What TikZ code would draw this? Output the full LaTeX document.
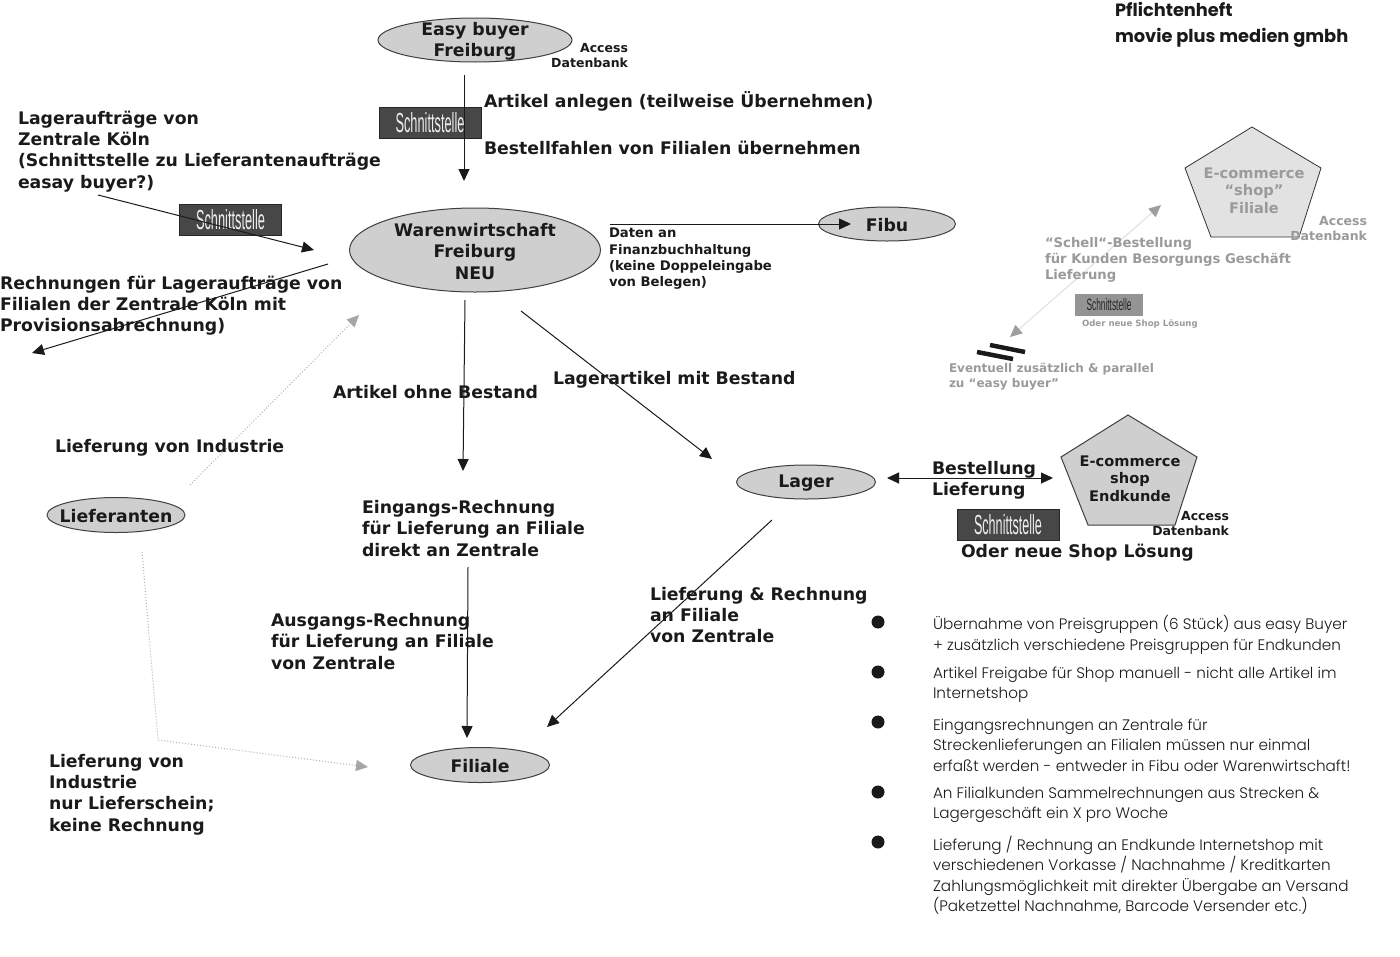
\documentclass[tikz,border=0pt]{standalone}
\usepackage{fontspec}
\usepackage{graphicx}
\setmainfont{DejaVu Sans}
\newfontfamily\titlefont{Poppins}
\newfontfamily\bulletfont{Poppins Light}
\newfontfamily\ifacefont{Liberation Sans}
\usetikzlibrary{arrows.meta,shapes.geometric}
\definecolor{ink}{HTML}{1A1A1A}
\definecolor{ellfill}{HTML}{CFCFCF}
\definecolor{pale}{HTML}{9A9A9A}
\definecolor{palefill}{HTML}{E2E2E2}
\definecolor{ifacefill}{HTML}{474747}
\begin{document}
\begin{tikzpicture}[x=1pt,y=-1pt,
  every node/.style={inner sep=0pt, outer sep=0pt},
  ell/.style={ellipse, draw=black!75, fill=ellfill, line width=1pt},
  big/.style={font=\fontsize{17.3}{21.3}\selectfont\bfseries, text=ink, yshift=-1.5pt},
  lbl/.style={big, align=left, anchor=west},
  mid/.style={font=\fontsize{13.2}{16.3}\selectfont\bfseries, text=ink, align=left, anchor=west, yshift=-1.5pt},
  acc/.style={font=\fontsize{12.5}{15}\selectfont\bfseries, text=ink, align=right, anchor=east, yshift=-1pt},
  palelbl/.style={font=\fontsize{13.2}{16}\selectfont\bfseries, text=pale, align=left, anchor=west, yshift=-1.5pt},
  iface/.style={draw=black!85, fill=ifacefill, minimum width=102pt, minimum height=31pt, text=white!93!black},
  conn/.style={draw=ink, line width=1pt, -{Triangle[length=12pt,width=11pt]}},
  dotconn/.style={draw=black!30, line width=1pt, dotted, -{Triangle[length=12pt,width=11pt,color=black!35]}},
  bul/.style={font=\bulletfont\fontsize{15.2}{20.5}\selectfont, text=ink, align=left, anchor=west, yshift=-1.5pt},
  dot/.style={circle, fill=ink, minimum size=13pt}
]
\useasboundingbox (0,0) rectangle (1400,956);
\fill[white] (0,0) rectangle (1400,956);

% ---------- ellipses ----------
\node[ell, minimum width=194pt, minimum height=44pt] (easy) at (475,40) {};
\node[big, align=center] (easyT) at (easy.center) {Easy buyer\\Freiburg};
\node[acc] (easyAcc) at (628,54.5) {Access\\Datenbank};

\node[ell, minimum width=251pt, minimum height=84pt] (ww) at (475,250) {};
\node[big, align=center] (wwT) at (ww.center) {Warenwirtschaft\\Freiburg\\NEU};

\node[ell, minimum width=137pt, minimum height=34pt] (fibu) at (887,224) {};
\node[big] (fibuT) at (fibu.center) {Fibu};

\node[ell, minimum width=138pt, minimum height=35pt] (lief) at (116,515) {};
\node[big] (liefT) at (lief.center) {Lieferanten};

\node[ell, minimum width=139pt, minimum height=34pt] (lager) at (806,482) {};
\node[big] (lagerT) at (lager.center) {Lager};

\node[ell, minimum width=139pt, minimum height=35pt] (fil) at (480,765) {};
\node[big] (filT) at (fil.center) {Filiale};

% ---------- pentagons ----------
\coordinate (pa1) at (1128,415); \coordinate (pa2) at (1197,457);
\coordinate (pa3) at (1175,525); \coordinate (pa4) at (1088,525);
\coordinate (pa5) at (1061,457);
\draw[fill=ellfill, draw=black!75, line width=1pt] (pa1)--(pa2)--(pa3)--(pa4)--(pa5)--cycle;
\node[font=\fontsize{14.6}{17.5}\selectfont\bfseries, text=ink, align=center, yshift=-1pt] (shopT) at (1130,477.5) {E-commerce\\shop\\Endkunde};
\node[acc] (shopAcc) at (1229,522.5) {Access\\Datenbank};

\coordinate (pb1) at (1252,127); \coordinate (pb2) at (1321,168);
\coordinate (pb3) at (1299,237); \coordinate (pb4) at (1211,237);
\coordinate (pb5) at (1185,168);
\draw[fill=palefill, draw=black!80, line width=0.8pt] (pb1)--(pb2)--(pb3)--(pb4)--(pb5)--cycle;
\node[font=\fontsize{14.6}{17.5}\selectfont\bfseries, text=pale, align=center, yshift=-1pt] (filShopT) at (1254,189.5) {E-commerce\\“shop”\\Filiale};
\node[acc, text=pale] (filAcc) at (1367,227.5) {Access\\Datenbank};

% ---------- Schnittstelle boxes ----------
\node[iface] (if1) at (430,122.5) {\resizebox{69pt}{20pt}{\ifacefont Schnittstelle}};
\node[iface] (if2) at (230.5,220) {\resizebox{69pt}{20pt}{\ifacefont Schnittstelle}};
\node[iface] (if3) at (1008,524.5) {\resizebox{68pt}{20pt}{\ifacefont Schnittstelle}};
\node[draw=none, fill=black!42, minimum width=68pt, minimum height=22pt, text=black!85] (if4) at (1109,305) {\resizebox{45pt}{12pt}{\ifacefont Schnittstelle}};

% ---------- connectors ----------
\coordinate (c1a) at (464,75);  \coordinate (c1b) at (464,181);
\draw[conn] (c1a) -- (c1b);
\coordinate (c2a) at (98,195);  \coordinate (c2b) at (314,250);
\draw[conn] (c2a) -- (c2b);
\coordinate (c3a) at (328,264); \coordinate (c3b) at (32,353);
\draw[conn] (c3a) -- (c3b);
\coordinate (c4a) at (610,224); \coordinate (c4b) at (851,224);
\draw[conn] (c4a) -- (c4b);
\coordinate (c5a) at (190,485); \coordinate (c5b) at (359,315);
\draw[dotconn] (c5a) -- (c5b);
\coordinate (c6a) at (142,552); \coordinate (c6m) at (158,740); \coordinate (c6b) at (368,767);
\draw[dotconn] (c6a) -- (c6m) -- (c6b);
\coordinate (c7a) at (465,300); \coordinate (c7b) at (463,471);
\draw[conn] (c7a) -- (c7b);
\coordinate (c8a) at (521,311); \coordinate (c8b) at (712,459);
\draw[conn] (c8a) -- (c8b);
\coordinate (c9a) at (468,567); \coordinate (c9b) at (467,738);
\draw[conn] (c9a) -- (c9b);
\coordinate (c10a) at (772,520); \coordinate (c10b) at (547,727);
\draw[conn] (c10a) -- (c10b);
\coordinate (c11a) at (887,478); \coordinate (c11b) at (1053,478);
\draw[conn, {Triangle[length=12pt,width=11pt]}-{Triangle[length=12pt,width=11pt]}] (c11a) -- (c11b);
\coordinate (c12a) at (1010,337); \coordinate (c12b) at (1161,205);
\draw[draw=black!12, line width=1pt, {Triangle[length=12pt,width=11pt,color=black!38]}-{Triangle[length=12pt,width=11pt,color=black!38]}] (c12a) -- (c12b);

% double bars
\coordinate (b1a) at (990,345); \coordinate (b1b) at (1025,352);
\coordinate (b2a) at (977,352); \coordinate (b2b) at (1013,359);
\draw[line width=4.5pt, ink] (b1a) -- (b1b);
\draw[line width=4.5pt, ink] (b2a) -- (b2b);

% ---------- labels ----------
\node[lbl] (tArt) at (484,100) {Artikel anlegen (teilweise Übernehmen)};
\node[lbl] (tBest) at (484,146) {Bestellfahlen von Filialen übernehmen};
\node[lbl] (tLag) at (18,150) {Lageraufträge von\\Zentrale Köln\\(Schnittstelle zu Lieferantenaufträge\\easay buyer?)};
\node[lbl] (tRech) at (0,304) {Rechnungen für Lageraufträge von\\Filialen der Zentrale Köln mit\\Provisionsabrechnung)};
\node[mid] (tDaten) at (609,257.5) {Daten an\\Finanzbuchhaltung\\(keine Doppeleingabe\\von Belegen)};
\node[lbl] (tLvI) at (55,446) {Lieferung von Industrie};
\node[lbl] (tLvI2) at (49,793) {Lieferung von\\Industrie\\nur Lieferschein;\\keine Rechnung};
\node[lbl] (tOhne) at (333,391) {Artikel ohne Bestand};
\node[lbl] (tMit) at (553,378) {Lagerartikel mit Bestand};
\node[lbl] (tEin) at (362,527) {Eingangs-Rechnung\\für Lieferung an Filiale\\direkt an Zentrale};
\node[lbl] (tAus) at (271,640) {Ausgangs-Rechnung\\für Lieferung an Filiale\\von Zentrale};
\node[lbl] (tLR) at (650,613.5) {Lieferung \& Rechnung\\an Filiale\\von Zentrale};
\node[lbl] (tBL) at (932,478.5) {Bestellung\\Lieferung};
\node[lbl] (tOder) at (961,551) {Oder neue Shop Lösung};
\node[palelbl] (tSchell) at (1045,258) {“Schell“-Bestellung\\für Kunden Besorgungs Geschäft\\Lieferung};
\node[font=\fontsize{8.6}{10}\selectfont\bfseries, text=pale, anchor=west, yshift=-1pt] (tOder2) at (1082,323) {Oder neue Shop Lösung};
\node[font=\fontsize{12}{15}\selectfont\bfseries, text=pale, align=left, anchor=west, yshift=-1.5pt] (tEvent) at (949,375.5) {Eventuell zusätzlich \& parallel\\zu “easy buyer”};

% title
\node[font=\titlefont\bfseries\fontsize{17.8}{26}\selectfont, text=ink, align=left, anchor=west, yshift=-2pt] (title) at (1115,23) {Pflichtenheft\\movie plus medien gmbh};

% ---------- bullets ----------
\node[dot] (d1) at (878,622) {};
\node[dot] (d2) at (878,672) {};
\node[dot] (d3) at (878,722) {};
\node[dot] (d4) at (878,792) {};
\node[dot] (d5) at (878,842) {};
\node[bul] (bt1) at (933,633.5) {Übernahme von Preisgruppen (6 Stück) aus easy Buyer\\+ zusätzlich verschiedene Preisgruppen für Endkunden};
\node[bul] (bt2) at (933,683) {Artikel Freigabe für Shop manuell - nicht alle Artikel im\\Internetshop};
\node[bul] (bt3) at (933,743.5) {Eingangsrechnungen an Zentrale für\\Streckenlieferungen an Filialen müssen nur einmal\\erfaßt werden - entweder in Fibu oder Warenwirtschaft!};
\node[bul] (bt4) at (933,803.5) {An Filialkunden Sammelrechnungen aus Strecken \&\\Lagergeschäft ein X pro Woche};
\node[bul] (bt5) at (933,874) {Lieferung / Rechnung an Endkunde Internetshop mit\\verschiedenen Vorkasse / Nachnahme / Kreditkarten\\Zahlungsmöglichkeit mit direkter Übergabe an Versand\\(Paketzettel Nachnahme, Barcode Versender etc.)};
\end{tikzpicture}
\end{document}
